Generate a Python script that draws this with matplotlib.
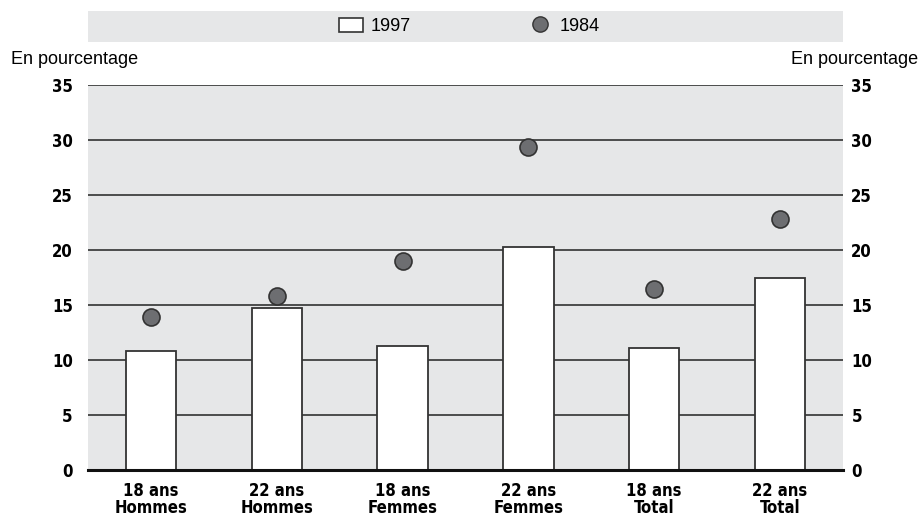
import matplotlib
matplotlib.use("Agg")
import matplotlib.pyplot as plt
from matplotlib.patches import Rectangle
from matplotlib.lines import Line2D

categories = ["18 ans\nHommes", "22 ans\nHommes", "18 ans\nFemmes",
              "22 ans\nFemmes", "18 ans\nTotal", "22 ans\nTotal"]
values_1997 = [10.8, 14.7, 11.3, 20.3, 11.1, 17.5]
values_1984 = [13.9, 15.8, 19.0, 29.4, 16.5, 22.8]
yticks = [0, 5, 10, 15, 20, 25, 30, 35]
series_names = ["1997", "1984"]

BG = "#E6E7E8"
DOT = "#6D6E71"
W, H = 923, 516
fig = plt.figure(figsize=(W / 100, H / 100), dpi=100)

ax = fig.add_axes([88 / W, 1 - 470 / H, 755 / W, 385 / H])
ax.set_facecolor(BG)
x = list(range(len(categories)))
ax.set_xlim(-0.5, len(categories) - 0.5)
ax.set_ylim(0, 35)
for t in yticks[1:]:
    ax.axhline(t, color="#222222", lw=1.1, zorder=1)
ax.axhline(0, color="#111111", lw=2.2, zorder=4, clip_on=False)
ax.bar(x, values_1997, width=0.4, color="white", edgecolor="#333333",
       linewidth=1.3, zorder=2)
ax.scatter(x, values_1984, s=150, color=DOT, edgecolor="#333333",
           linewidth=1.2, zorder=3)
for s in ax.spines.values():
    s.set_visible(False)

tick_font = dict(family="DejaVu Sans", fontstretch="condensed",
                 fontweight="bold", fontsize=12)
ax.set_yticks(yticks)
ax.set_yticklabels([str(t) for t in yticks], **tick_font)
ax.tick_params(axis="y", length=0, pad=11)

axr = ax.twinx()
axr.set_ylim(ax.get_ylim())
axr.set_yticks(yticks)
axr.set_yticklabels([str(t) for t in yticks], **tick_font)
axr.tick_params(axis="y", length=0, pad=6)
for s in axr.spines.values():
    s.set_visible(False)

ax.set_xticks(x)
ax.set_xticklabels(categories, linespacing=0.9, **tick_font)
ax.tick_params(axis="x", length=0, pad=9)

fig.text(11 / W, 1 - 60 / H, "En pourcentage", fontsize=13, ha="left",
         va="center", family="Liberation Sans")
fig.text(918 / W, 1 - 60 / H, "En pourcentage", fontsize=13, ha="right",
         va="center", family="Liberation Sans")

lax = fig.add_axes([88 / W, 1 - 42 / H, 755 / W, 31 / H])
lax.set_facecolor(BG)
lax.set_xticks([]); lax.set_yticks([])
for s in lax.spines.values():
    s.set_visible(False)
handles = [Rectangle((0, 0), 1, 1, facecolor="white", edgecolor="#333333", lw=1.2),
           Line2D([], [], marker="o", ls="", markersize=11, markerfacecolor=DOT,
                  markeredgecolor="#333333")]
lax.legend(handles, series_names, loc="center", ncol=2, frameon=False,
           prop=dict(family="Liberation Sans", size=13), handlelength=1.33,
           handleheight=0.78, columnspacing=6.5, handletextpad=0.4,
           bbox_to_anchor=(0.505, 0.5))

fig.savefig("out.png", dpi=100)
